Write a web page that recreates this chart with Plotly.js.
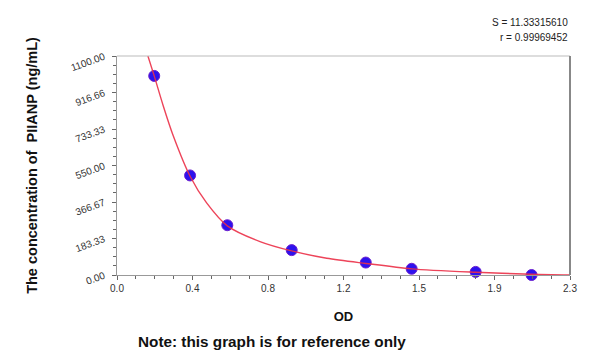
<!DOCTYPE html>
<html>
<head>
<meta charset="utf-8">
<script src="https://cdn.plot.ly/plotly-3.0.1.min.js"></script>
<style>html,body{margin:0;padding:0;background:#fff;}#chart{width:600px;height:352px;}</style>
</head>
<body>
<div id="chart"></div>
<script>
// Standard points (OD vs concentration)
const odValues = [0.189, 0.371, 0.560, 0.887, 1.263, 1.496, 1.821, 2.105];
const concValues = [1000, 500, 250, 125, 62.5, 31.25, 15.63, 0];

// Fitted curve
const curveOD = [0.157, 0.189, 0.235, 0.286, 0.371, 0.455, 0.560, 0.726, 0.887, 1.065, 1.263, 1.496, 1.821, 2.105, 2.3];
const curveConc = [1100, 1000, 849, 698, 496, 362, 247, 168, 121, 84, 58, 31, 14, 4, 0];

const xTickVals = [0, 0.38333, 0.76667, 1.15, 1.53333, 1.91667, 2.3];
const xTickText = ["0.0", "0.4", "0.8", "1.2", "1.5", "1.9", "2.3"];
const yTickVals = [0, 183.333, 366.667, 550, 733.333, 916.667, 1100];
const yTickText = ["0.00", "183.33", "366.67", "550.00", "733.33", "916.66", "1100.00"];

const statS = "S = 11.33315610";
const statR = "r = 0.99969452";
const noteText = "Note: this graph is for reference only";

const traces = [
  {
    x: odValues, y: concValues, mode: 'markers', type: 'scatter',
    marker: {color: '#2c12ee', size: 11, line: {color: '#6a1fd0', width: 1}},
    cliponaxis: false, showlegend: false
  },
  {
    x: curveOD, y: curveConc, mode: 'lines', type: 'scatter',
    line: {color: '#ec3048', width: 1.4, shape: 'spline', smoothing: 0.8},
    opacity: 0.9, showlegend: false
  }
];

const tickFont = {family: 'Arial, Liberation Sans, sans-serif', size: 10, color: '#333'};

const layout = {
  width: 600, height: 352,
  margin: {l: 117, r: 30, t: 56, b: 77},
  paper_bgcolor: '#fff', plot_bgcolor: '#fff',
  xaxis: {
    range: [0, 2.3], tickmode: 'array', tickvals: xTickVals, ticktext: xTickText,
    showgrid: false, zeroline: false, showline: true, linecolor: '#999', linewidth: 1,
    ticks: 'outside', ticklen: 4, tickcolor: '#666', tickfont: tickFont,
    minor: {ticks: 'outside', ticklen: 3, tickcolor: '#666', dtick: 2.3/24, tick0: 0, showgrid: false},
    mirror: false,
    title: {text: '<b>OD</b>', font: {family: 'Arial, Liberation Sans, sans-serif', size: 13, color: '#111'}, standoff: 18}
  },
  yaxis: {
    range: [0, 1100], tickmode: 'array', tickvals: yTickVals, ticktext: yTickText,
    showgrid: false, zeroline: false, showline: true, linecolor: '#999', linewidth: 1,
    ticks: 'outside', ticklen: 4, tickcolor: '#666', tickfont: tickFont, tickangle: -20,
    ticklabelstandoff: 6,
    minor: {ticks: 'outside', ticklen: 3, tickcolor: '#666', dtick: 1100/24, tick0: 0, showgrid: false},
    title: {text: '<b>The concentration of  PIIANP (ng/mL)</b>', font: {family: 'Arial, Liberation Sans, sans-serif', size: 14.5, color: '#111'}, standoff: 28}
  },
  shapes: [
    {type: 'line', xref: 'paper', yref: 'paper', x0: 0, x1: 1, y0: 1, y1: 1, line: {color: '#bbb', width: 1}},
    {type: 'line', xref: 'paper', yref: 'paper', x0: 1, x1: 1, y0: 0, y1: 1, line: {color: '#888', width: 2}}
  ],
  annotations: [
    {text: statS, xref: 'paper', yref: 'paper', x: 1, y: 1, xanchor: 'right', yanchor: 'bottom', yshift: 26,
     showarrow: false, font: {family: 'Arial, Liberation Sans, sans-serif', size: 10, color: '#222'}},
    {text: statR, xref: 'paper', yref: 'paper', x: 1, y: 1, xanchor: 'right', yanchor: 'bottom', yshift: 11,
     showarrow: false, font: {family: 'Arial, Liberation Sans, sans-serif', size: 10, color: '#222'}},
    {text: '<b>' + noteText + '</b>', xref: 'paper', yref: 'paper', x: 0.343, y: 0, xanchor: 'center', yanchor: 'top', yshift: -56,
     showarrow: false, font: {family: 'Arial, Liberation Sans, sans-serif', size: 15.3, color: '#111'}}
  ]
};

Plotly.newPlot('chart', traces, layout, {displayModeBar: false, staticPlot: true});
</script>
</body>
</html>
